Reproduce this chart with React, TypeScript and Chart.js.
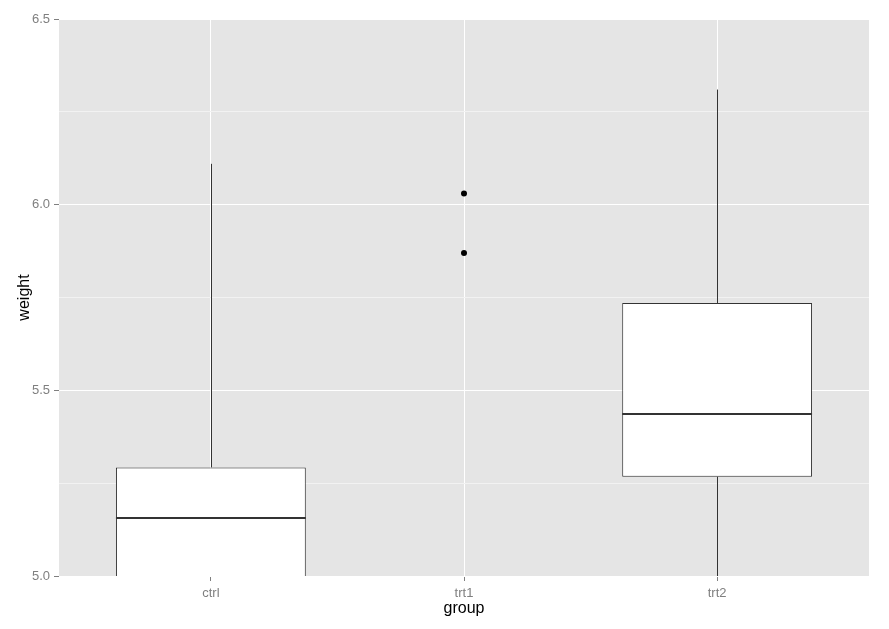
import React, { useEffect, useRef } from "react";
import { Chart, registerables } from "chart.js";

Chart.register(...registerables);

const categories = ["ctrl", "trt1", "trt2"];
const q1 = [4.55, 4.2, 5.2675];
const q3 = [5.2925, 4.87, 5.735];
const medians = [5.155, 4.55, 5.435];
const whiskerLow = [4.17, 3.59, 4.92];
const whiskerHigh = [6.11, 4.89, 6.31];
const outlierGroup = [2, 2];
const outlierValue = [6.03, 5.87];
const yTicks = [5.0, 5.25, 5.5, 5.75, 6.0, 6.25, 6.5];

const isMajor = (v: number) => Math.abs(v * 2 - Math.round(v * 2)) < 1e-6;

const boxPlugin = {
  id: "boxParts",
  beforeDraw(chart: any) {
    const { ctx, chartArea } = chart;
    ctx.save();
    ctx.fillStyle = "#E5E5E5";
    ctx.fillRect(chartArea.left, chartArea.top, chartArea.right - chartArea.left, chartArea.bottom - chartArea.top);
    ctx.restore();
  },
  beforeDatasetsDraw(chart: any) {
    const { ctx, chartArea, scales } = chart;
    ctx.save();
    ctx.beginPath();
    ctx.rect(chartArea.left, chartArea.top, chartArea.right - chartArea.left, chartArea.bottom - chartArea.top);
    ctx.clip();
    ctx.strokeStyle = "#333333";
    ctx.lineWidth = 1;
    categories.forEach((_, i) => {
      const x = Math.round(scales.x.getPixelForValue(i + 1)) + 0.5;
      ctx.beginPath();
      ctx.moveTo(x, scales.y.getPixelForValue(q3[i]));
      ctx.lineTo(x, scales.y.getPixelForValue(whiskerHigh[i]));
      ctx.moveTo(x, scales.y.getPixelForValue(q1[i]));
      ctx.lineTo(x, scales.y.getPixelForValue(whiskerLow[i]));
      ctx.stroke();
    });
    ctx.restore();
  },
  afterDatasetsDraw(chart: any) {
    const { ctx, chartArea, scales } = chart;
    const meta = chart.getDatasetMeta(0);
    ctx.save();
    ctx.beginPath();
    ctx.rect(chartArea.left, chartArea.top, chartArea.right - chartArea.left, chartArea.bottom - chartArea.top);
    ctx.clip();
    ctx.strokeStyle = "#333333";
    ctx.lineWidth = 2;
    categories.forEach((_, i) => {
      const el = meta.data[i];
      const half = el.width / 2;
      const y = Math.round(scales.y.getPixelForValue(medians[i]));
      ctx.beginPath();
      ctx.moveTo(el.x - half, y);
      ctx.lineTo(el.x + half, y);
      ctx.stroke();
    });
    ctx.restore();
  },
};

export default function App() {
  const ref = useRef<HTMLCanvasElement>(null);
  useEffect(() => {
    if (!ref.current) return;
    const chart = new Chart(ref.current, {
      data: {
        datasets: [
          {
            type: "bar",
            data: categories.map((_, i) => ({ x: i + 1, y: [q1[i], q3[i]] })) as any,
            backgroundColor: "#FFFFFF",
            borderColor: "#333333",
            borderWidth: 1,
            borderSkipped: false,
            categoryPercentage: 1,
            barPercentage: 0.75,
          },
          {
            type: "scatter",
            data: outlierGroup.map((g, i) => ({ x: g, y: outlierValue[i] })),
            backgroundColor: "#000000",
            borderColor: "#000000",
            pointRadius: 3,
            borderWidth: 0,
          },
        ],
      } as any,
      plugins: [boxPlugin],
      options: {
        animation: false,
        responsive: false,
        layout: { padding: { top: 19, right: 20, left: 0, bottom: 0 } },
        plugins: { legend: { display: false }, tooltip: { enabled: false } },
        scales: {
          x: {
            type: "linear",
            min: 0.4,
            max: 3.6,
            offset: false,
            afterBuildTicks: (s: any) => {
              s.ticks = categories.map((_, i) => ({ value: i + 1 }));
            },
            afterFit: (s: any) => {
              s.height = 53;
            },
            ticks: {
              callback: (v: any) => categories[Math.round(v) - 1],
              color: "#7F7F7F",
              font: { family: "Liberation Sans", size: 13 },
              padding: 5,
              maxRotation: 0,
            },
            grid: {
              offset: false,
              color: "#FFFFFF",
              lineWidth: 1,
              tickColor: "#7F7F7F",
              tickLength: 5,
            },
            border: { display: false },
            title: {
              display: true,
              text: "group",
              color: "#000000",
              font: { family: "Liberation Sans", size: 16 },
              padding: { top: 0, bottom: 11 },
            },
          },
          y: {
            type: "linear",
            min: 5.0,
            max: 6.5,
            afterBuildTicks: (s: any) => {
              s.ticks = yTicks.map((v) => ({ value: v }));
            },
            afterFit: (s: any) => {
              s.width = 59;
            },
            ticks: {
              callback: (v: any) => (isMajor(v) ? Number(v).toFixed(1) : ""),
              color: "#7F7F7F",
              font: { family: "Liberation Sans", size: 13 },
              padding: 4,
            },
            grid: {
              color: (c: any) => (isMajor(c.tick.value) ? "#FFFFFF" : "#F2F2F2"),
              lineWidth: 1,
              tickColor: (c: any) => (isMajor(c.tick.value) ? "#7F7F7F" : "rgba(0,0,0,0)"),
              tickLength: 5,
            },
            border: { display: false },
            title: {
              display: true,
              text: "weight",
              color: "#000000",
              font: { family: "Liberation Sans", size: 16 },
              padding: { top: 15, bottom: 0 },
            },
          },
        },
      } as any,
    });
    return () => chart.destroy();
  }, []);
  return (
    <div style={{ position: "absolute", left: 0, top: 0, width: 889, height: 629, background: "#FFFFFF" }}>
      <canvas ref={ref} width={889} height={629} style={{ display: "block" }} />
    </div>
  );
}
